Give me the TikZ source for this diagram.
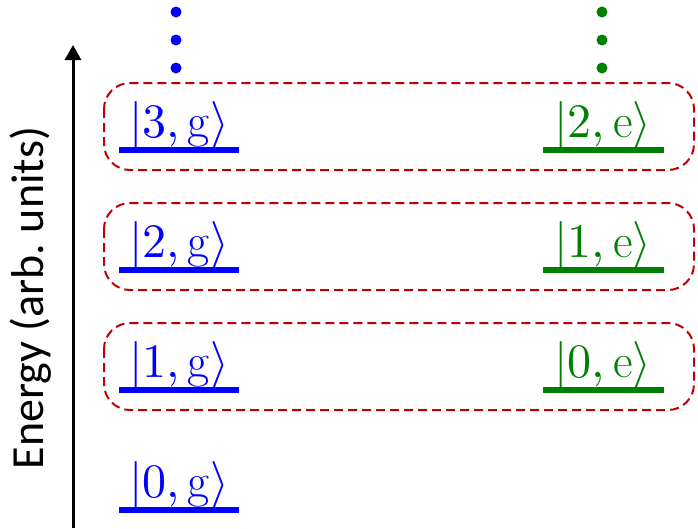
\documentclass[tikz,border=0pt]{standalone}
\usepackage{fontspec}
\usepackage{unicode-math}
\setsansfont{Carlito}
\setmathfont{Latin Modern Math}
\usetikzlibrary{arrows.meta}
\definecolor{gblue}{RGB}{0,0,255}
\definecolor{egreen}{RGB}{0,128,0}
\definecolor{boxred}{RGB}{192,0,0}
\tikzset{
    glevel/.style={gblue, line width=6pt},
    elevel/.style={egreen, line width=6pt},
    statelabel/.style={font=\fontsize{48}{52}\selectfont, inner sep=0pt, anchor=base},
    pairbox/.style={boxred, line width=2pt, dash pattern=on 9pt off 5pt, rounded corners=26pt},
}
\begin{document}
\begin{tikzpicture}[x=1pt, y=-1pt]
        \useasboundingbox (0,0) rectangle (698,528);
        % energy axis
        \coordinate (axisbot) at (73,528);
        \coordinate (axistop) at (73,45);
        \draw[-{Triangle[length=15pt, width=16pt]}, line width=3pt] (axisbot) -- (axistop);
        \node[rotate=90, font=\sffamily\fontsize{46}{50}\selectfont] (elabel) at (31,298) {Energy (arb.\ units)};
        % dashed boxes around the degenerate pairs
        \foreach \n in {1,2,3} {
            \pgfmathsetmacro\yy{510-120*\n}
            \draw[pairbox] (104,\yy-67) rectangle (694,\yy+20);
        }
        % ground ladder |n,g>
        \foreach \n in {0,...,3} {
            \pgfmathsetmacro\yy{510-120*\n}
            \coordinate (gl\n) at (119,\yy);
            \coordinate (gr\n) at (239,\yy);
            \draw[glevel] (gl\n) -- (gr\n);
            \node[statelabel, gblue] (g\n) at (179,\yy-13) {$|\n,\mathrm{g}\rangle$};
        }
        % excited ladder |n,e>
        \foreach \n in {0,1,2} {
            \pgfmathsetmacro\yy{390-120*\n}
            \coordinate (el\n) at (543,\yy);
            \coordinate (er\n) at (664,\yy);
            \draw[elevel] (el\n) -- (er\n);
            \node[statelabel, egreen] (e\n) at (603,\yy-13) {$|\n,\mathrm{e}\rangle$};
        }
        % dots above the ladders
        \foreach \y in {12,40,68} {
            \fill[gblue] (176,\y) circle (5.5);
            \fill[egreen] (602,\y) circle (5.5);
        }
\end{tikzpicture}
\end{document}
